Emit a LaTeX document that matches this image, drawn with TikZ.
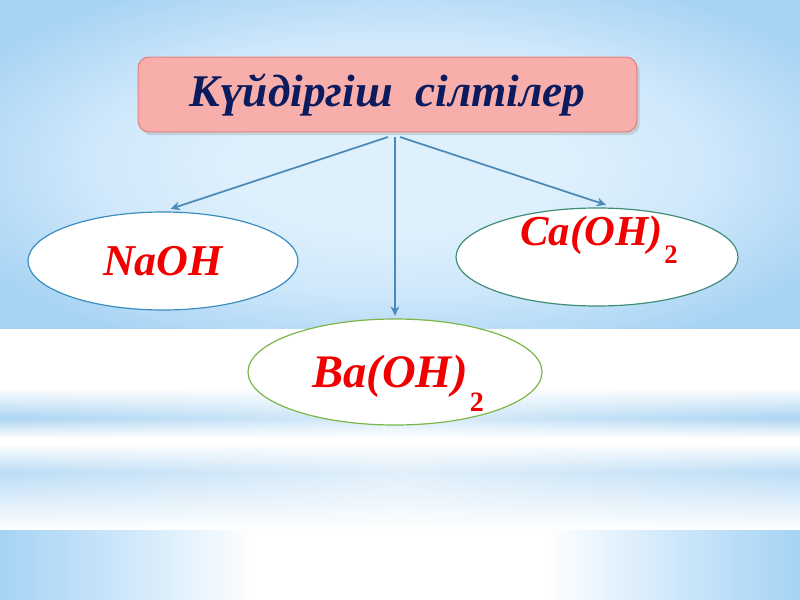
\documentclass[tikz,border=0pt]{standalone}
\usepackage{fontspec}
\setmainfont{Liberation Serif}
\usetikzlibrary{shapes.geometric,arrows.meta,shadows,fadings}
\definecolor{topc}{HTML}{DEF0FC}
\definecolor{topm}{HTML}{D0E8FB}
\definecolor{tope}{HTML}{A6D3F4}
\definecolor{botm}{HTML}{C9E5FA}
\definecolor{botc}{HTML}{FFFFFF}
\definecolor{stripe}{HTML}{ACD5F3}
\definecolor{stripetwo}{HTML}{BCDDF6}
\definecolor{titlefill}{HTML}{F8AFAC}
\definecolor{titleborder}{HTML}{E0827E}
\definecolor{navy}{HTML}{0B1B5E}
\definecolor{chemred}{HTML}{F00000}
\definecolor{arrowc}{HTML}{4A89B8}
\definecolor{naborder}{HTML}{3A8DBF}
\definecolor{caborder}{HTML}{3E8E78}
\definecolor{baborder}{HTML}{7AB648}
\pgfdeclareradialshading{bgtop}{\pgfpoint{0bp}{0bp}}{color(0bp)=(topc); color(10bp)=(topc); color(19bp)=(topm); color(31bp)=(tope); color(50bp)=(tope)}
\pgfdeclarehorizontalshading{bgbot}{100bp}{color(0bp)=(tope); color(25bp)=(tope); color(32bp)=(botm); color(41bp)=(botc); color(59bp)=(botc); color(68bp)=(botm); color(75bp)=(tope); color(100bp)=(tope)}
\tikzfading[name=midfade, left color=transparent!100, right color=transparent!100, middle color=transparent!45]
\tikzset{
  titlebox/.style={draw=titleborder, fill=titlefill, line width=0.8pt, rounded corners=8pt,
    minimum width=374pt, minimum height=56pt, text=navy,
    font=\fontsize{34}{40}\selectfont\bfseries\itshape,
    drop shadow={shadow xshift=2pt, shadow yshift=-2.5pt, opacity=0.25}},
  chemell/.style={ellipse, draw=#1, fill=white, line width=0.9pt, inner sep=0pt},
  chemtext/.style={text=chemred, inner sep=0pt},
  arr/.style={draw=arrowc, line width=1.3pt, -{Stealth[length=7pt,width=6.5pt]}}
}
\begin{document}
\begin{tikzpicture}[x=0.75pt,y=-0.75pt]
\useasboundingbox (0,0) rectangle (800,600);
% background
\shade[shading=bgtop] (0,0) rectangle (800,330);
\fill[white] (0,329) rectangle (800,530);
\shade[top color=white, bottom color=stripe] (0,388) rectangle (800,418);
\shade[top color=stripe, bottom color=white] (0,418) rectangle (800,438);
\shade[top color=white, bottom color=stripetwo] (0,443) rectangle (800,472);
\shade[top color=stripetwo, bottom color=white] (0,472) rectangle (800,530);
\fill[white, path fading=midfade] (0,385) rectangle (800,530);
\shade[shading=bgbot] (0,530) rectangle (800,600);
% nodes
\node[titlebox] (title) at (387.5,94.5) {Күйдіргіш\ \ сілтілер};
\node[chemell=naborder, minimum width=202.5pt, minimum height=73.5pt, text=chemred,
  font=\fontsize{33}{38}\selectfont\bfseries\itshape] (naoh) at (163,261) {NaOH};
\node[chemell=caborder, minimum width=211.5pt, minimum height=73.5pt] (ca) at (597,257) {};
\node[chemell=baborder, minimum width=220.5pt, minimum height=79.5pt] (ba) at (395,372) {};
\node[chemtext, anchor=base west, font=\fontsize{32}{38}\selectfont\bfseries\itshape] (catext) at (520,245)
  {Ca(OH)\kern1.5pt\raisebox{-13.5pt}{\fontsize{20}{20}\selectfont\bfseries\upshape 2}};
\node[chemtext, anchor=base west, font=\fontsize{35}{40}\selectfont\bfseries\itshape] (batext) at (312,387)
  {Ba(OH)\kern1.5pt\raisebox{-18pt}{\fontsize{21}{21}\selectfont\bfseries\upshape 2}};
% connectors
\coordinate (s1) at (388,137);
\coordinate (s2) at (395,137);
\coordinate (s3) at (400,137);
\draw[arr, shorten >=6pt] (s1) -- (naoh.north);
\draw[arr, shorten >=2pt] (s2) -- (ba.north);
\draw[arr, shorten >=7pt] (s3) -- (ca.70);
\end{tikzpicture}
\end{document}
